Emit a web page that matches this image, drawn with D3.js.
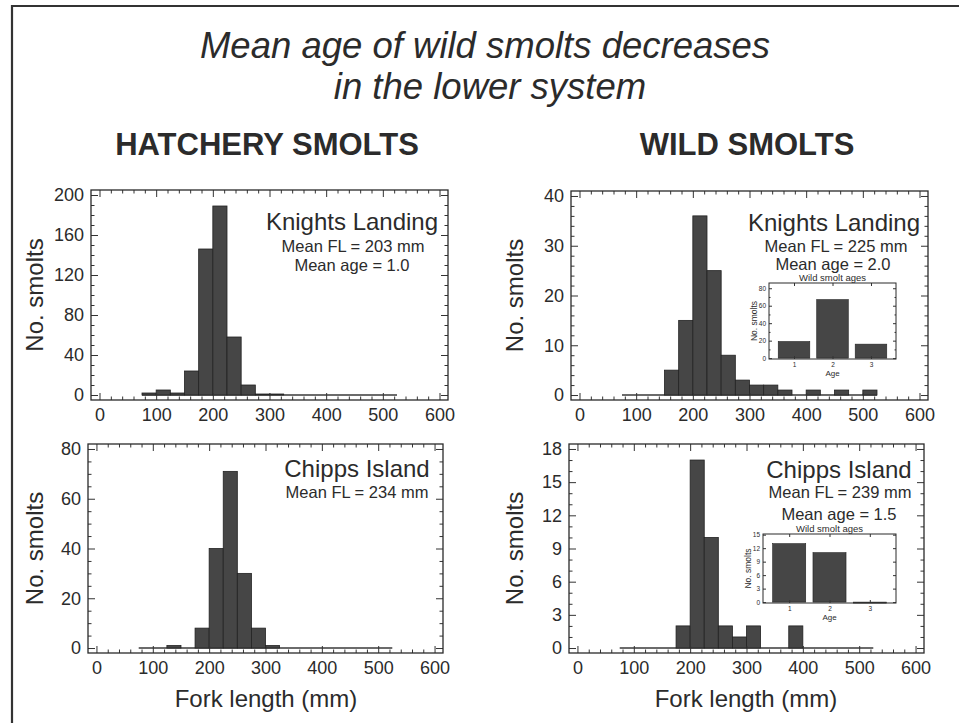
<!DOCTYPE html>
<html><head><meta charset="utf-8">
<script src="https://cdn.jsdelivr.net/npm/d3@7"></script>
<style>
html,body{margin:0;padding:0;background:#fff;}
svg{display:block;font-family:"Liberation Sans",Arial,Helvetica,sans-serif;}
</style></head><body>
<svg id="chart" width="959" height="723"></svg>
<script>
// Fork-length histogram bins (lower edges, mm), 25 mm wide
const binEdges = [75,100,125,150,175,200,225,250,275,300,325,350,375,400,425,450,475,500];
const binWidth = 25;
const hatcheryKnights = [2,5,2,24,146,189,58,10,1,1,0,0,0,0,0,0,0,0];
const wildKnights     = [0,0,0,5,15,36,25,8,3,2,2,1,0,1,0,1,0,1];
const hatcheryChipps  = [0,0,1,0,8,40,71,30,8,1,0,0,0,0,0,0,0,0];
const wildChipps      = [0,0,0,0,2,17,10,2,1,2,0,0,2,0,0,0,0,0];
const xTicks = [0,100,200,300,400,500,600];
const yTicksHK = [0,40,80,120,160,200];
const yTicksWK = [0,10,20,30,40];
const yTicksHC = [0,20,40,60,80];
const yTicksWC = [0,3,6,9,12,15,18];
// Age composition of wild smolts (inset bar charts)
const ages = [1,2,3];
const agesKnights = [19,67,16];
const agesChipps = [13,11,0];
const ageTicksKnights = [0,20,40,60,80];
const ageTicksChipps = [0,3,6,9,12,15];
const titleLines = ["Mean age of wild smolts decreases","in the lower system"];
const columnHeads = ["HATCHERY SMOLTS","WILD SMOLTS"];

const INK = "#2b2b2b";
const BAR = "#464646";
const svg = d3.select("#chart");

// page frame (left and top edges)
svg.append("path").attr("d","M12,723 L12,6 L959,6")
  .attr("fill","none").attr("stroke","#333").attr("stroke-width",2.2);

svg.append("text").attr("x",485).attr("y",58).attr("text-anchor","middle")
  .attr("font-size",36.5).attr("font-style","italic").attr("fill",INK).text(titleLines[0]);
svg.append("text").attr("x",490).attr("y",99).attr("text-anchor","middle")
  .attr("font-size",36.5).attr("font-style","italic").attr("fill",INK).text(titleLines[1]);

svg.append("text").attr("x",267).attr("y",155).attr("text-anchor","middle")
  .attr("font-size",31).attr("font-weight","bold").attr("fill",INK).text(columnHeads[0]);
svg.append("text").attr("x",747).attr("y",155).attr("text-anchor","middle")
  .attr("font-size",31).attr("font-weight","bold").attr("fill",INK).text(columnHeads[1]);

function styleAxis(sel){
  sel.select(".domain").remove();
  sel.selectAll(".tick line").attr("stroke","#333").attr("stroke-width",1);
  sel.selectAll(".tick text").attr("fill",INK).attr("font-family",null);
}

function drawFrameAxes(g, x, y, xMajor, xMinor, yMajor, yMinor, o){
  const [x0,x1] = x.range(); const [y1,y0] = y.range();
  const big = o.big, small = o.small;
  // bottom with labels
  g.append("g").attr("transform",`translate(0,${y1})`)
    .call(d3.axisBottom(x).tickValues(xMajor).tickSize(-big).tickPadding(o.xPad).tickFormat(o.xFmt))
    .call(styleAxis).attr("font-size",o.fs);
  g.append("g").attr("transform",`translate(0,${y1})`)
    .call(d3.axisBottom(x).tickValues(xMinor).tickSize(-small).tickFormat(""))
    .call(styleAxis);
  // top mirror
  g.append("g").attr("transform",`translate(0,${y0})`)
    .call(d3.axisTop(x).tickValues(xMajor).tickSize(-big).tickFormat(""))
    .call(styleAxis);
  g.append("g").attr("transform",`translate(0,${y0})`)
    .call(d3.axisTop(x).tickValues(xMinor).tickSize(-small).tickFormat(""))
    .call(styleAxis);
  // left with labels
  g.append("g").attr("transform",`translate(${x0},0)`)
    .call(d3.axisLeft(y).tickValues(yMajor).tickSize(-big).tickPadding(o.yPad))
    .call(styleAxis).attr("font-size",o.fs);
  g.append("g").attr("transform",`translate(${x0},0)`)
    .call(d3.axisLeft(y).tickValues(yMinor).tickSize(-small).tickFormat(""))
    .call(styleAxis);
  // right mirror
  g.append("g").attr("transform",`translate(${x1},0)`)
    .call(d3.axisRight(y).tickValues(yMajor).tickSize(-big).tickFormat(""))
    .call(styleAxis);
  g.append("g").attr("transform",`translate(${x1},0)`)
    .call(d3.axisRight(y).tickValues(yMinor).tickSize(-small).tickFormat(""))
    .call(styleAxis);
  g.append("rect").attr("x",x0).attr("y",y0).attr("width",x1-x0).attr("height",y1-y0)
    .attr("fill","none").attr("stroke","#2a2a2a").attr("stroke-width",o.frameW);
}

function histogram(p){
  const g = svg.append("g");
  const yMax = p.yTicks[p.yTicks.length-1];
  const x = d3.scaleLinear().domain([-15,615]).range([p.x0,p.x1]);
  const y = d3.scaleLinear().domain([-0.025*yMax,1.025*yMax]).range([p.y1,p.y0]);
  const step = p.yTicks[1]-p.yTicks[0];
  const yMinor = d3.range(0, yMax+1e-9, p.minorStep).filter(v=>Math.abs(v/step-Math.round(v/step))>1e-6);
  const xMinor = d3.range(0, 601, 20).filter(v=>v%100!==0);

  // empty bins show as a line along zero
  g.append("line")
    .attr("x1",x(binEdges[0])).attr("x2",x(binEdges[binEdges.length-1]+binWidth))
    .attr("y1",y(0)).attr("y2",y(0)).attr("stroke","#3a3a3a").attr("stroke-width",1.6);
  const bins = binEdges.map((b,i)=>({b, v:p.values[i]})).filter(d=>d.v>0);
  g.selectAll("rect.bar").data(bins).join("rect").attr("class","bar")
    .attr("x",d=>x(d.b)).attr("width",d=>x(d.b+binWidth)-x(d.b))
    .attr("y",d=>y(d.v)).attr("height",d=>y(0)-y(d.v))
    .attr("fill",BAR).attr("stroke","#222").attr("stroke-width",0.8);

  drawFrameAxes(g, x, y, xTicks, xMinor, p.yTicks, yMinor,
    {big:7, small:3.5, fs:18, xPad:8, yPad:7, xFmt:d3.format("d"), frameW:1.3});

  g.append("text").attr("transform",`translate(${p.yLabX},${(p.y0+p.y1)/2}) rotate(-90)`)
    .attr("text-anchor","middle").attr("font-size",24).attr("fill",INK).text("No. smolts");
  p.notes.forEach(n=>{
    g.append("text").attr("x",n[0]).attr("y",n[1]).attr("text-anchor","middle")
      .attr("font-size",n[3]).attr("fill",INK).text(n[2]);
  });
  return {x,y};
}

function ageInset(p){
  const g = svg.append("g");
  const x = d3.scaleLinear().domain([0.35,3.65]).range([p.x0,p.x1]);
  const y = d3.scaleLinear().domain(p.yDomain).range([p.y1,p.y0]);
  g.append("rect").attr("x",p.x0).attr("y",p.y0).attr("width",p.x1-p.x0).attr("height",p.y1-p.y0).attr("fill","#fff");
  const data = ages.map((a,i)=>({a, v:p.values[i]}));
  g.selectAll("rect.bar").data(data).join("rect")
    .attr("x",d=>x(d.a-0.41)).attr("width",d=>x(d.a+0.41)-x(d.a-0.41))
    .attr("y",d=>y(d.v)).attr("height",d=>Math.max(1,y(0)-y(d.v)))
    .attr("fill",BAR).attr("stroke","#222").attr("stroke-width",0.6);
  drawFrameAxes(g, x, y, ages, [], p.yTicks, p.yMinor,
    {big:3, small:1.5, fs:6.5, xPad:3, yPad:3, xFmt:d3.format("d"), frameW:1});
  g.append("text").attr("x",(p.x0+p.x1)/2).attr("y",p.y0-2).attr("text-anchor","middle")
    .attr("font-size",9.5).attr("fill",INK).text("Wild smolt ages");
  g.append("text").attr("x",(p.x0+p.x1)/2).attr("y",p.y1+17).attr("text-anchor","middle")
    .attr("font-size",8).attr("fill",INK).text("Age");
  g.append("text").attr("transform",`translate(${p.x0-12},${(p.y0+p.y1)/2}) rotate(-90)`)
    .attr("text-anchor","middle").attr("font-size",8.5).attr("fill",INK).text("No. smolts");
}

histogram({x0:91,x1:448,y0:190,y1:400,values:hatcheryKnights,yTicks:yTicksHK,minorStep:10,yLabX:43,
  notes:[[352,230,"Knights Landing",24],[353,252,"Mean FL = 203 mm",16.5],[352,271,"Mean age = 1.0",16.5]]});
histogram({x0:571,x1:928,y0:191,y1:400,values:wildKnights,yTicks:yTicksWK,minorStep:2,yLabX:523,
  notes:[[834,231,"Knights Landing",24],[836,252,"Mean FL = 225 mm",16.5],[833,270,"Mean age = 2.0",16.5]]});
histogram({x0:88,x1:443,y0:444,y1:653,values:hatcheryChipps,yTicks:yTicksHC,minorStep:5,yLabX:43,
  notes:[[357,477,"Chipps Island",24],[357,498,"Mean FL = 234 mm",16.5]]});
histogram({x0:569,x1:924,y0:444,y1:653,values:wildChipps,yTicks:yTicksWC,minorStep:1,yLabX:523,
  notes:[[839,478,"Chipps Island",24],[840,498,"Mean FL = 239 mm",16.5],[839,520,"Mean age = 1.5",16.5]]});

ageInset({x0:769,x1:896,y0:283,y1:359,values:agesKnights,yTicks:ageTicksKnights,yMinor:[10,30,50,70],yDomain:[-1,86]});
ageInset({x0:763,x1:896,y0:534,y1:603,values:agesChipps,yTicks:ageTicksChipps,yMinor:[],yDomain:[-0.2,15.15]});

svg.append("text").attr("x",266).attr("y",707).attr("text-anchor","middle")
  .attr("font-size",24).attr("fill",INK).text("Fork length (mm)");
svg.append("text").attr("x",746).attr("y",707).attr("text-anchor","middle")
  .attr("font-size",24).attr("fill",INK).text("Fork length (mm)");
</script>
</body></html>
